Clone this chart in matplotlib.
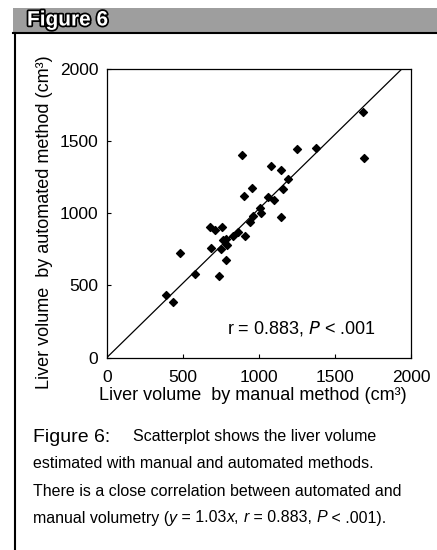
import matplotlib.pyplot as plt
import matplotlib.patheffects as pe
from matplotlib.patches import Rectangle
from matplotlib.lines import Line2D

# values (cm3)
manual = [1687, 1693, 1373, 1253, 889, 1080, 1145, 1191, 1158, 955,
          902, 1058, 1102, 1005, 1014, 1145, 959, 942, 865, 830,
          909, 679, 714, 758, 767, 782, 685, 749, 788, 784,
          740, 482, 580, 388, 438]
automated = [1703, 1385, 1449, 1442, 1403, 1329, 1299, 1237, 1165, 1172,
             1119, 1112, 1089, 1038, 1004, 976, 981, 942, 870, 845,
             840, 902, 884, 907, 815, 819, 762, 755, 778, 679,
             568, 722, 577, 436, 388]
slope = 1.03
line_x = [0, 2000]
ticks = [0, 500, 1000, 1500, 2000]

plt.rcParams['font.family'] = ['Liberation Sans', 'DejaVu Sans']

fig = plt.figure(figsize=(4.37, 5.5), dpi=100)

# header band + left rule
fig.patches.append(Rectangle((13 / 437, 1 - 32 / 550), 424 / 437, 24 / 550,
                             transform=fig.transFigure, facecolor='#9e9e9e',
                             edgecolor='none', zorder=0))
fig.lines.append(Line2D([13 / 437, 1], [1 - 33 / 550, 1 - 33 / 550],
                        transform=fig.transFigure, color='black', lw=1.5))
fig.lines.append(Line2D([15 / 437, 15 / 437], [0, 1 - 33 / 550],
                        transform=fig.transFigure, color='black', lw=1.5))
fig.text(27 / 437, 1 - 20 / 550, 'Figure 6', color='white', fontsize=15,
         fontweight='bold', va='center',
         path_effects=[pe.withStroke(linewidth=2.5, foreground='black')])

ax = fig.add_axes([106.7 / 437, 1 - 357.7 / 550, 304.3 / 437, 289 / 550])
ax.scatter(manual, automated, marker='D', s=16, color='black', zorder=3)
ax.plot(line_x, [slope * v for v in line_x], color='black', lw=0.9)
ax.set_xlim(0, 2000)
ax.set_ylim(0, 2000)
ax.set_xticks(ticks)
ax.set_yticks(ticks)
ax.tick_params(direction='in', length=3, labelsize=12.5, pad=6)
ax.tick_params(axis='x', pad=9)
for s in ax.spines.values():
    s.set_linewidth(0.9)
ax.set_xlabel('Liver volume  by manual method (cm³)', fontsize=13, labelpad=1,
              x=0.48)
ax.set_ylabel('Liver volume  by automated method (cm³)', fontsize=13,
              labelpad=5, y=0.47)
ax.text(1770, 200, r'r = 0.883, $\it{P}$ < .001', ha='right', va='center',
        fontsize=13)

# caption
fs = 11.5
y0 = 1 - 437 / 550
dy = 27 / 550
fig.text(33 / 437, y0, 'Figure 6:', fontsize=14, va='center')
fig.text(133 / 437, y0, 'Scatterplot shows the liver volume', fontsize=fs,
         va='center')
fig.text(33 / 437, y0 - dy, 'estimated with manual and automated methods.',
         fontsize=fs, va='center')
fig.text(33 / 437, y0 - 2 * dy, 'There is a close correlation between automated and',
         fontsize=fs, va='center')
parts = [('manual volumetry (', 'normal'), ('y', 'italic'), (' = 1.03', 'normal'),
         ('x', 'italic'), (', ', 'normal'), ('r', 'italic'), (' = 0.883, ', 'normal'),
         ('P', 'italic'), (' < .001).', 'normal')]
prev = None
for txt, st in parts:
    if prev is None:
        prev = fig.text(33 / 437, y0 - 3 * dy, txt, fontsize=fs,
                        style=st, va='center')
    else:
        prev = ax.annotate(txt, xy=(1, 0.5), xycoords=prev, fontsize=fs,
                           style=st, va='center', annotation_clip=False)

fig.savefig('out.png', dpi=100)
